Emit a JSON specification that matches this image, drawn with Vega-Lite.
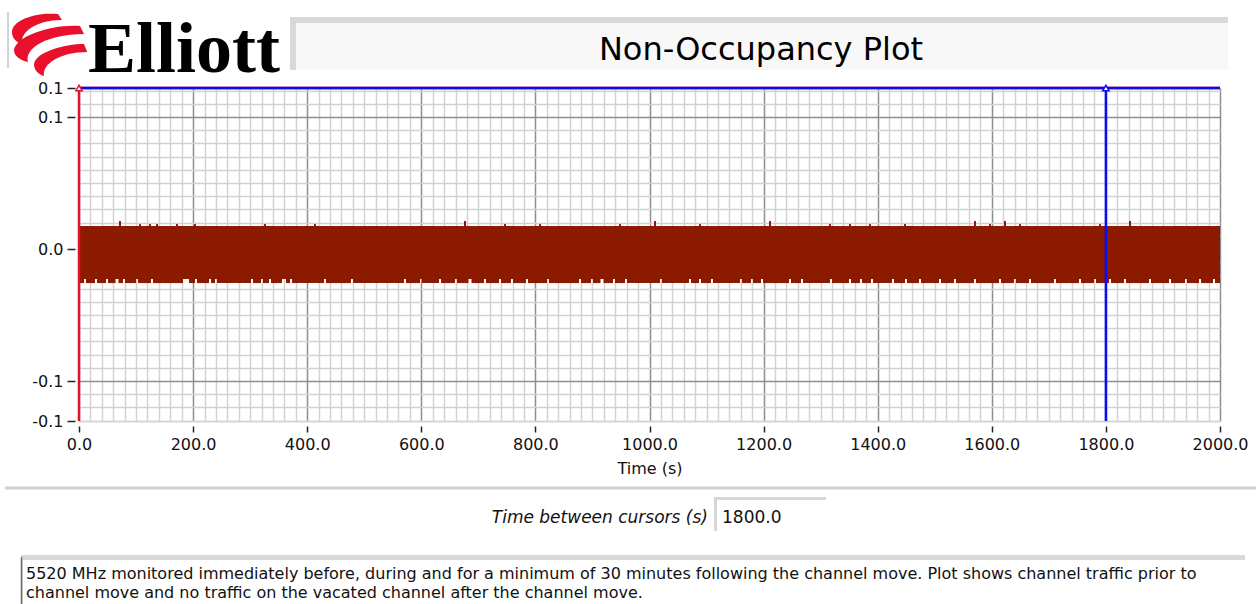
{
  "$schema": "https://vega.github.io/schema/vega-lite/v6.json",
  "width": 1141,
  "height": 333,
  "autosize": {"type": "none"},
  "padding": {"left": 79, "top": 88, "right": 36, "bottom": 183},
  "background": "white",
  "config": {"view": {"stroke": "#b4b4b4", "strokeWidth": 1}, "font": "DejaVu Sans"},
  "datasets": {
    "band": [
      {"t0": 0, "t1": 2000, "lo": -0.0227, "hi": 0.0174},
      {"t0": 0, "t1": 8.8, "lo": -0.0258, "hi": -0.0227},
      {"t0": 12.3, "t1": 28.1, "lo": -0.0258, "hi": -0.0227},
      {"t0": 31.6, "t1": 47.3, "lo": -0.0258, "hi": -0.0227},
      {"t0": 50.8, "t1": 64.0, "lo": -0.0258, "hi": -0.0227},
      {"t0": 69.2, "t1": 77.1, "lo": -0.0258, "hi": -0.0227},
      {"t0": 80.6, "t1": 99.9, "lo": -0.0258, "hi": -0.0227},
      {"t0": 103.4, "t1": 126.2, "lo": -0.0258, "hi": -0.0227},
      {"t0": 129.7, "t1": 182.3, "lo": -0.0258, "hi": -0.0227},
      {"t0": 192.8, "t1": 203.3, "lo": -0.0258, "hi": -0.0227},
      {"t0": 206.8, "t1": 227.9, "lo": -0.0258, "hi": -0.0227},
      {"t0": 231.4, "t1": 238.4, "lo": -0.0258, "hi": -0.0227},
      {"t0": 241.9, "t1": 301.5, "lo": -0.0258, "hi": -0.0227},
      {"t0": 305.0, "t1": 319.0, "lo": -0.0258, "hi": -0.0227},
      {"t0": 322.5, "t1": 333.0, "lo": -0.0258, "hi": -0.0227},
      {"t0": 336.5, "t1": 355.8, "lo": -0.0258, "hi": -0.0227},
      {"t0": 362.8, "t1": 369.9, "lo": -0.0258, "hi": -0.0227},
      {"t0": 373.4, "t1": 429.5, "lo": -0.0258, "hi": -0.0227},
      {"t0": 433.0, "t1": 476.8, "lo": -0.0258, "hi": -0.0227},
      {"t0": 480.3, "t1": 569.7, "lo": -0.0258, "hi": -0.0227},
      {"t0": 573.2, "t1": 597.7, "lo": -0.0258, "hi": -0.0227},
      {"t0": 601.2, "t1": 631.0, "lo": -0.0258, "hi": -0.0227},
      {"t0": 634.5, "t1": 659.1, "lo": -0.0258, "hi": -0.0227},
      {"t0": 662.6, "t1": 682.7, "lo": -0.0258, "hi": -0.0227},
      {"t0": 688.0, "t1": 709.9, "lo": -0.0258, "hi": -0.0227},
      {"t0": 713.4, "t1": 736.2, "lo": -0.0258, "hi": -0.0227},
      {"t0": 739.7, "t1": 757.2, "lo": -0.0258, "hi": -0.0227},
      {"t0": 760.7, "t1": 783.5, "lo": -0.0258, "hi": -0.0227},
      {"t0": 787.0, "t1": 820.3, "lo": -0.0258, "hi": -0.0227},
      {"t0": 823.8, "t1": 876.4, "lo": -0.0258, "hi": -0.0227},
      {"t0": 879.9, "t1": 897.5, "lo": -0.0258, "hi": -0.0227},
      {"t0": 901.0, "t1": 914.1, "lo": -0.0258, "hi": -0.0227},
      {"t0": 919.4, "t1": 936.0, "lo": -0.0258, "hi": -0.0227},
      {"t0": 939.5, "t1": 957.1, "lo": -0.0258, "hi": -0.0227},
      {"t0": 960.6, "t1": 1018.4, "lo": -0.0258, "hi": -0.0227},
      {"t0": 1021.9, "t1": 1069.2, "lo": -0.0258, "hi": -0.0227},
      {"t0": 1072.7, "t1": 1086.8, "lo": -0.0258, "hi": -0.0227},
      {"t0": 1090.3, "t1": 1107.8, "lo": -0.0258, "hi": -0.0227},
      {"t0": 1111.3, "t1": 1158.6, "lo": -0.0258, "hi": -0.0227},
      {"t0": 1162.1, "t1": 1177.9, "lo": -0.0258, "hi": -0.0227},
      {"t0": 1181.4, "t1": 1195.4, "lo": -0.0258, "hi": -0.0227},
      {"t0": 1199.0, "t1": 1244.5, "lo": -0.0258, "hi": -0.0227},
      {"t0": 1248.0, "t1": 1265.6, "lo": -0.0258, "hi": -0.0227},
      {"t0": 1269.1, "t1": 1316.4, "lo": -0.0258, "hi": -0.0227},
      {"t0": 1319.9, "t1": 1349.7, "lo": -0.0258, "hi": -0.0227},
      {"t0": 1353.2, "t1": 1369.0, "lo": -0.0258, "hi": -0.0227},
      {"t0": 1372.5, "t1": 1388.3, "lo": -0.0258, "hi": -0.0227},
      {"t0": 1391.8, "t1": 1425.1, "lo": -0.0258, "hi": -0.0227},
      {"t0": 1428.6, "t1": 1447.9, "lo": -0.0258, "hi": -0.0227},
      {"t0": 1451.4, "t1": 1472.4, "lo": -0.0258, "hi": -0.0227},
      {"t0": 1475.9, "t1": 1507.5, "lo": -0.0258, "hi": -0.0227},
      {"t0": 1511.0, "t1": 1533.7, "lo": -0.0258, "hi": -0.0227},
      {"t0": 1537.2, "t1": 1568.8, "lo": -0.0258, "hi": -0.0227},
      {"t0": 1572.3, "t1": 1612.6, "lo": -0.0258, "hi": -0.0227},
      {"t0": 1616.1, "t1": 1638.9, "lo": -0.0258, "hi": -0.0227},
      {"t0": 1642.4, "t1": 1665.2, "lo": -0.0258, "hi": -0.0227},
      {"t0": 1668.7, "t1": 1709.0, "lo": -0.0258, "hi": -0.0227},
      {"t0": 1712.5, "t1": 1752.9, "lo": -0.0258, "hi": -0.0227},
      {"t0": 1756.4, "t1": 1779.1, "lo": -0.0258, "hi": -0.0227},
      {"t0": 1782.6, "t1": 1805.4, "lo": -0.0258, "hi": -0.0227},
      {"t0": 1809.0, "t1": 1831.7, "lo": -0.0258, "hi": -0.0227},
      {"t0": 1835.2, "t1": 1875.6, "lo": -0.0258, "hi": -0.0227},
      {"t0": 1879.1, "t1": 1910.6, "lo": -0.0258, "hi": -0.0227},
      {"t0": 1914.1, "t1": 1938.7, "lo": -0.0258, "hi": -0.0227},
      {"t0": 1942.2, "t1": 1963.2, "lo": -0.0258, "hi": -0.0227},
      {"t0": 1966.7, "t1": 1987.7, "lo": -0.0258, "hi": -0.0227},
      {"t0": 1991.2, "t1": 2000, "lo": -0.0258, "hi": -0.0227}
    ],
    "spikes": [
      {"t": 71.9, "lo": 0.0174, "hi": 0.0212},
      {"t": 676.6, "lo": 0.0174, "hi": 0.0212},
      {"t": 1009.6, "lo": 0.0174, "hi": 0.0212},
      {"t": 1211.2, "lo": 0.0174, "hi": 0.0212},
      {"t": 1570.5, "lo": 0.0174, "hi": 0.0212},
      {"t": 1623.1, "lo": 0.0174, "hi": 0.0212},
      {"t": 1842.2, "lo": 0.0174, "hi": 0.0212},
      {"t": 106.9, "lo": 0.0174, "hi": 0.0189},
      {"t": 124.5, "lo": 0.0174, "hi": 0.0189},
      {"t": 136.7, "lo": 0.0174, "hi": 0.0189},
      {"t": 171.8, "lo": 0.0174, "hi": 0.0189},
      {"t": 203.3, "lo": 0.0174, "hi": 0.0189},
      {"t": 326.0, "lo": 0.0174, "hi": 0.0189},
      {"t": 413.7, "lo": 0.0174, "hi": 0.0189},
      {"t": 746.7, "lo": 0.0174, "hi": 0.0189},
      {"t": 808.1, "lo": 0.0174, "hi": 0.0189},
      {"t": 948.3, "lo": 0.0174, "hi": 0.0189},
      {"t": 1088.5, "lo": 0.0174, "hi": 0.0189},
      {"t": 1316.4, "lo": 0.0174, "hi": 0.0189},
      {"t": 1351.4, "lo": 0.0174, "hi": 0.0189},
      {"t": 1386.5, "lo": 0.0174, "hi": 0.0189},
      {"t": 1447.9, "lo": 0.0174, "hi": 0.0189},
      {"t": 1596.8, "lo": 0.0174, "hi": 0.0189},
      {"t": 1649.4, "lo": 0.0174, "hi": 0.0189},
      {"t": 1789.7, "lo": 0.0174, "hi": 0.0189}
    ],
    "cursors": [
      {"cursor": "Cursor 1", "t": 0, "v": 0.122},
      {"cursor": "Cursor 2", "t": 1800, "v": 0.122}
    ]
  },
  "layer": [
    {
      "data": {"name": "band"},
      "mark": {"type": "rect", "color": "#8b1a00"},
      "encoding": {
        "x": {
          "field": "t0", "type": "quantitative",
          "scale": {"domain": [0, 2000], "nice": false, "zero": false},
          "axis": {
            "title": "Time (s)", "titleFont": "DejaVu Sans", "titleFontSize": 16, "titleFontWeight": "normal", "titleColor": "#111111", "titlePadding": 8,
            "tickCount": 500,
            "values": [0,20,40,60,80,100,120,140,160,180,200,220,240,260,280,300,320,340,360,380,400,420,440,460,480,500,520,540,560,580,600,620,640,660,680,700,720,740,760,780,800,820,840,860,880,900,920,940,960,980,1000,1020,1040,1060,1080,1100,1120,1140,1160,1180,1200,1220,1240,1260,1280,1300,1320,1340,1360,1380,1400,1420,1440,1460,1480,1500,1520,1540,1560,1580,1600,1620,1640,1660,1680,1700,1720,1740,1760,1780,1800,1820,1840,1860,1880,1900,1920,1940,1960,1980,2000],
            "labelExpr": "datum.value % 200 === 0 ? format(datum.value, '.1f') : ''",
            "labelFont": "DejaVu Sans", "labelFontSize": 16, "labelColor": "#111111", "labelPadding": 4,
            "labelOverlap": false, "labelFlush": false, "labelBound": false,
            "tickSize": 6, "tickColor": "#222222", "tickWidth": 1.5,
            "tickOpacity": {"condition": {"test": "datum.value % 200 === 0", "value": 1}, "value": 0},
            "offset": 5, "domain": false,
            "grid": true, "gridWidth": 1.5,
            "gridColor": {"condition": {"test": "datum.value % 200 === 0", "value": "#8e8e8e"}, "value": "#d2d2d2"}
          }
        },
        "x2": {"field": "t1"},
        "y": {
          "field": "lo", "type": "quantitative",
          "scale": {"domain": [-0.1303, 0.122], "nice": false, "zero": false},
          "axis": {
            "title": null,
            "tickCount": 500,
            "values": [-0.1303,-0.13,-0.12,-0.11,-0.1,-0.09,-0.08,-0.07,-0.06,-0.05,-0.04,-0.03,-0.02,-0.01,0,0.01,0.02,0.03,0.04,0.05,0.06,0.07,0.08,0.09,0.1,0.11,0.12,0.122],
            "labelExpr": "(abs(datum.value) < 0.001 || abs(abs(datum.value) - 0.1) < 0.001 || abs(datum.value - 0.122) < 0.0005 || abs(datum.value + 0.1303) < 0.0001) ? replace(format(datum.value, '.1f'), '\u2212', '-') : ''",
            "labelFont": "DejaVu Sans", "labelFontSize": 16, "labelColor": "#111111", "labelPadding": 4,
            "labelOverlap": false, "labelFlush": false, "labelBound": false,
            "tickSize": 8, "tickColor": "#222222", "tickWidth": 1.5,
            "tickOpacity": {"condition": {"test": "abs(datum.value) < 0.001 || abs(abs(datum.value) - 0.1) < 0.001 || abs(datum.value - 0.122) < 0.0005 || abs(datum.value + 0.1303) < 0.0001", "value": 1}, "value": 0},
            "offset": 4, "domain": false,
            "grid": true, "gridWidth": 1.5,
            "gridColor": {"condition": {"test": "abs(datum.value) < 0.001 || abs(abs(datum.value) - 0.1) < 0.001", "value": "#8e8e8e"}, "value": "#d2d2d2"}
          }
        },
        "y2": {"field": "hi"}
      }
    },
    {
      "data": {"name": "spikes"},
      "mark": {"type": "rule", "color": "#8b1a00", "strokeWidth": 2},
      "encoding": {
        "x": {"field": "t", "type": "quantitative"},
        "y": {"field": "lo", "type": "quantitative"},
        "y2": {"field": "hi"}
      }
    },
    {
      "data": {"name": "cursors"},
      "mark": {"type": "rule", "strokeWidth": 2.5},
      "encoding": {
        "x": {"field": "t", "type": "quantitative"},
        "color": {"field": "cursor", "type": "nominal", "scale": {"domain": ["Cursor 1", "Cursor 2"], "range": ["#e4132b", "#0b0bf2"]}, "legend": null}
      }
    },
    {
      "data": {"name": "cursors"},
      "mark": {"type": "rule", "strokeWidth": 2.5},
      "encoding": {
        "y": {"field": "v", "type": "quantitative"},
        "color": {"field": "cursor", "type": "nominal", "legend": null}
      }
    },
    {
      "data": {"name": "cursors"},
      "mark": {"type": "point", "shape": "triangle-up", "size": 40, "filled": false, "strokeWidth": 1.5, "fill": "white", "fillOpacity": 1, "opacity": 1, "clip": false},
      "encoding": {
        "x": {"field": "t", "type": "quantitative"},
        "y": {"field": "v", "type": "quantitative"},
        "color": {"field": "cursor", "type": "nominal", "legend": null}
      }
    },
    {
      "data": {"values": [{"part": "logo mark"}]},
      "mark": {"type": "point", "filled": true, "opacity": 1, "color": "#e8102a", "size": 6400, "clip": false,
        "shape": "M 0.25,-0.75 C -0.3,-0.8 -0.9,-0.6 -0.9,-0.3 C -0.9,-0.15 -0.8,-0.05 -0.65,0 C -0.7,-0.3 -0.3,-0.6 0.35,-0.6 Z M 0.8,-0.45 C 0.1,-0.5 -0.8,-0.2 -0.85,0.15 C -0.85,0.3 -0.7,0.4 -0.5,0.45 C -0.6,0.1 0,-0.25 0.9,-0.25 Z M 0.9,0.0 C 0.4,0.0 -0.3,0.2 -0.35,0.5 C -0.35,0.65 -0.25,0.75 -0.1,0.8 C -0.15,0.5 0.3,0.2 0.98,0.2 Z"},
      "encoding": {
        "x": {"datum": -54.3},
        "y": {"datum": 0.1553}
      }
    },
    {
      "data": {"values": [{"label": "Elliott"}]},
      "mark": {"type": "text", "font": "Liberation Serif", "fontWeight": "bold", "fontSize": 72, "align": "left", "baseline": "alphabetic", "color": "#000000", "clip": false},
      "encoding": {
        "x": {"datum": 15.8},
        "y": {"datum": 0.1341},
        "text": {"field": "label"}
      }
    },
    {
      "data": {"values": [{"part": "header edge"}]},
      "mark": {"type": "rule", "color": "#c4c4c4", "strokeWidth": 1.5, "clip": false},
      "encoding": {
        "x": {"datum": -124.45},
        "y": {"datum": 0.17955},
        "y2": {"datum": 0.13712}
      }
    },
    {
      "data": {"values": [{"part": "title bevel"}]},
      "mark": {"type": "rect", "color": "#d9d9d9", "clip": false},
      "encoding": {
        "x": {"datum": 369.85},
        "x2": {"datum": 2014.0},
        "y": {"datum": 0.17576},
        "y2": {"datum": 0.13561}
      }
    },
    {
      "data": {"values": [{"part": "title face"}]},
      "mark": {"type": "rect", "color": "#f8f8f8", "clip": false},
      "encoding": {
        "x": {"datum": 380.4},
        "x2": {"datum": 2014.0},
        "y": {"datum": 0.17121},
        "y2": {"datum": 0.13561}
      }
    },
    {
      "data": {"values": [{"label": "Non-Occupancy Plot"}]},
      "mark": {"type": "text", "font": "DejaVu Sans", "fontSize": 32, "align": "center", "baseline": "alphabetic", "color": "#000000", "clip": false},
      "encoding": {
        "x": {"datum": 1195.4},
        "y": {"datum": 0.14318},
        "text": {"field": "label"}
      }
    },
    {
      "data": {"values": [{"part": "footer separator"}]},
      "mark": {"type": "rule", "color": "#d0d0d0", "strokeWidth": 3, "clip": false},
      "encoding": {
        "x": {"datum": -129.7},
        "x2": {"datum": 2063.1},
        "y": {"datum": -0.18106}
      }
    },
    {
      "data": {"values": [{"label": "Time between cursors (s)"}]},
      "mark": {"type": "text", "font": "DejaVu Sans", "fontStyle": "italic", "fontSize": 17, "align": "right", "baseline": "alphabetic", "color": "#111111", "clip": false},
      "encoding": {
        "x": {"datum": 1102.5},
        "y": {"datum": -0.20758},
        "text": {"field": "label"}
      }
    },
    {
      "data": {"values": [{"part": "value bevel"}]},
      "mark": {"type": "rect", "color": "#d6d6d6", "clip": false},
      "encoding": {
        "x": {"datum": 1113.1},
        "x2": {"datum": 1309.4},
        "y": {"datum": -0.18788},
        "y2": {"datum": -0.21364}
      }
    },
    {
      "data": {"values": [{"part": "value face"}]},
      "mark": {"type": "rect", "color": "#ffffff", "clip": false},
      "encoding": {
        "x": {"datum": 1118.3},
        "x2": {"datum": 1309.4},
        "y": {"datum": -0.19015},
        "y2": {"datum": -0.21364}
      }
    },
    {
      "data": {"values": [{"label": "1800.0"}]},
      "mark": {"type": "text", "font": "DejaVu Sans", "fontSize": 17, "align": "left", "baseline": "alphabetic", "color": "#111111", "clip": false},
      "encoding": {
        "x": {"datum": 1127.1},
        "y": {"datum": -0.20758},
        "text": {"field": "label"}
      }
    },
    {
      "data": {"values": [{"part": "note bevel"}]},
      "mark": {"type": "rect", "color": "#d8d8d8", "clip": false},
      "encoding": {
        "x": {"datum": -101.7},
        "x2": {"datum": 2043.8},
        "y": {"datum": -0.2318},
        "y2": {"datum": -0.2735}
      }
    },
    {
      "data": {"values": [{"part": "note face"}]},
      "mark": {"type": "rect", "color": "#ffffff", "clip": false},
      "encoding": {
        "x": {"datum": -98.2},
        "x2": {"datum": 2043.8},
        "y": {"datum": -0.2356},
        "y2": {"datum": -0.2735}
      }
    },
    {
      "data": {"values": [{"part": "note edge"}]},
      "mark": {"type": "rule", "color": "#6e6e6e", "strokeWidth": 1.5, "clip": false},
      "encoding": {
        "x": {"datum": -100.8},
        "y": {"datum": -0.2333},
        "y2": {"datum": -0.2735}
      }
    },
    {
      "data": {"values": [{"label": ["5520 MHz monitored immediately before, during and for a minimum of 30 minutes following the channel move. Plot shows channel traffic prior to", "channel move and no traffic on the vacated channel after the channel move."]}]},
      "mark": {"type": "text", "font": "DejaVu Sans", "fontSize": 16, "lineHeight": 19, "align": "left", "baseline": "alphabetic", "color": "#111111", "clip": false},
      "encoding": {
        "x": {"datum": -92.9},
        "y": {"datum": -0.25},
        "text": {"field": "label"}
      }
    }
  ]
}
